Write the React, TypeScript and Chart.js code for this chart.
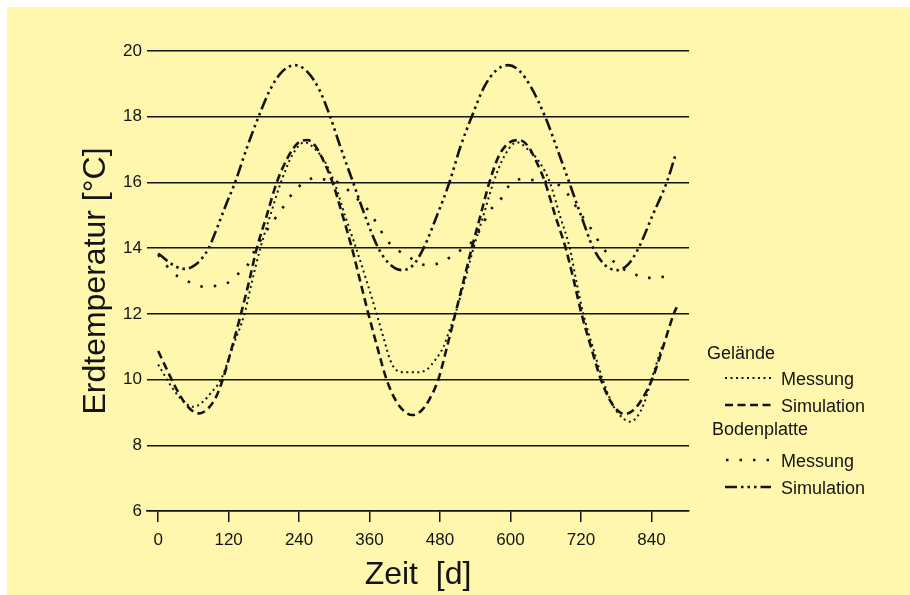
import React, { useEffect, useRef } from "react";
import { Chart, registerables } from "chart.js";

Chart.register(...registerables);

// ---------- data ----------
const xTickValues = [0, 120, 240, 360, 480, 600, 720, 840];
const yTickValues = [6, 8, 10, 12, 14, 16, 18, 20];

const legendGroups = ["Gelände", "Bodenplatte"];
const legendItems = ["Messung", "Simulation"];

// Gelände – Messung (dense dotted)
const gelaendeMessungDays = [0, 15, 30, 45, 59, 75, 90, 107, 127, 147, 160, 174, 191, 209, 229, 249, 268, 285, 300, 318, 337, 355, 372, 385, 395, 405, 420, 440, 457, 472, 486, 496, 506, 522, 537, 554, 571, 591, 611, 630, 650, 667, 684, 701, 712, 724, 740, 757, 775, 790, 803, 815, 828, 840, 858];
const gelaendeMessungTemp = [10.46, 10.0, 9.6, 9.3, 9.17, 9.3, 9.6, 10.0, 11.0, 12.0, 13.0, 14.0, 15.0, 16.0, 16.85, 17.22, 17.0, 16.6, 16.0, 15.0, 14.0, 13.0, 12.0, 11.2, 10.6, 10.3, 10.22, 10.22, 10.3, 10.6, 11.0, 11.5, 12.0, 13.0, 14.0, 15.0, 16.0, 16.85, 17.22, 17.0, 16.6, 16.0, 15.0, 14.0, 13.0, 12.0, 11.0, 10.0, 9.2, 8.85, 8.72, 8.85, 9.3, 10.0, 11.0];

// Gelände – Simulation (dashed)
const gelaendeSimDays = [0, 15, 30, 45, 58, 70, 85, 98, 110, 126, 141, 155, 168, 185, 202, 222, 238, 254, 268, 283, 297, 314, 330, 344, 358, 373, 389, 405, 420, 433, 448, 462, 477, 492, 506, 520, 534, 549, 564, 580, 597, 615, 630, 645, 659, 676, 694, 708, 721, 737, 754, 770, 783, 795, 808, 822, 841, 860, 878, 883];
const gelaendeSimTemp = [10.87, 10.3, 9.75, 9.3, 9.05, 8.97, 9.12, 9.45, 10.0, 11.0, 12.0, 13.0, 14.0, 15.0, 16.0, 16.8, 17.2, 17.29, 17.1, 16.6, 16.0, 15.0, 14.0, 13.0, 12.0, 11.0, 10.0, 9.35, 9.02, 8.92, 9.05, 9.4, 10.0, 11.0, 12.0, 13.0, 14.0, 15.0, 16.0, 16.8, 17.2, 17.29, 17.1, 16.6, 16.0, 15.0, 14.0, 13.0, 12.0, 11.0, 10.0, 9.35, 9.05, 8.95, 9.05, 9.35, 10.0, 11.0, 12.0, 12.2];

// Bodenplatte – Messung (sparse dots)
const bodenMessungDays = [0, 9, 25, 46, 62, 77, 97, 117, 135, 151, 165, 180, 195, 211, 228, 245, 269, 287, 304, 318, 332, 355, 372, 389, 412, 426, 440, 454, 474, 490, 503, 520, 534, 551, 562, 575, 587, 596, 606, 622, 639, 658, 676, 690, 705, 718, 735, 752, 769, 784, 800, 815, 829, 849, 870];
const bodenMessungTemp = [13.8, 13.59, 13.25, 13.03, 12.9, 12.83, 12.85, 12.93, 13.2, 13.45, 13.95, 14.4, 14.8, 15.2, 15.65, 15.95, 16.15, 16.07, 16.02, 15.85, 15.62, 15.21, 14.76, 14.25, 13.89, 13.74, 13.6, 13.49, 13.52, 13.65, 13.79, 14.0, 14.18, 14.65, 15.06, 15.35, 15.57, 15.87, 16.02, 16.12, 16.07, 16.03, 15.97, 15.82, 15.45, 15.08, 14.65, 14.15, 13.74, 13.44, 13.3, 13.18, 13.08, 13.13, 13.11];

// Bodenplatte – Simulation (dash-dot-dot)
const bodenSimDays = [0, 15, 30, 46, 60, 75, 86, 100, 115, 131, 150, 171, 190, 210, 233, 255, 275, 293, 310, 332, 352, 375, 395, 415, 435, 452, 475, 496, 515, 534, 555, 575, 596, 615, 635, 659, 680, 700, 720, 741, 760, 781, 800, 818, 842, 866, 881];
const bodenSimTemp = [13.84, 13.62, 13.44, 13.37, 13.45, 13.7, 14.0, 14.6, 15.3, 16.0, 17.0, 18.0, 18.8, 19.35, 19.57, 19.35, 18.8, 18.0, 17.1, 16.0, 15.0, 14.0, 13.5, 13.33, 13.5, 14.0, 15.0, 16.0, 17.1, 18.0, 18.9, 19.4, 19.57, 19.4, 18.9, 18.0, 17.0, 16.0, 15.0, 14.0, 13.5, 13.33, 13.5, 14.0, 15.0, 16.0, 16.84];

// ---------- style ----------
const INK = "#141414";
const BG = "#FFF7AE";
const FONT = '"Liberation Sans", Arial, Helvetica, sans-serif';

const dashGM = [2, 3.5];
const dashGS = [8, 4.5];
const dashBM = [2.5, 11];
const dashBS = [12, 4, 2.5, 4, 2.5, 4, 2.5, 4];

const toPoints = (days: number[], temps: number[]) =>
  days.map((d, i) => ({ x: d, y: temps[i] }));

const legendPlugin = {
  id: "groupLegend",
  afterDraw(chart: any) {
    const ctx = chart.ctx as CanvasRenderingContext2D;
    const ds = chart.data.datasets;
    const sample = (d: any, x0: number, x1: number, y: number) => {
      ctx.beginPath();
      ctx.setLineDash(d.borderDash);
      ctx.lineWidth = d.borderWidth;
      ctx.strokeStyle = INK;
      ctx.moveTo(x0, y);
      ctx.lineTo(x1, y);
      ctx.stroke();
    };
    ctx.save();
    ctx.fillStyle = INK;
    ctx.font = `18px ${FONT}`;
    ctx.textAlign = "left";
    ctx.textBaseline = "alphabetic";
    ctx.fillText(legendGroups[0], 707, 359);
    sample(ds[2], 725, 771, 378);
    ctx.fillText(legendItems[0], 781, 385);
    sample(ds[1], 725, 771, 405);
    ctx.fillText(legendItems[1], 781, 412);
    ctx.fillText(legendGroups[1], 712, 435);
    sample(ds[3], 726, 770, 460);
    ctx.fillText(legendItems[0], 781, 467);
    sample(ds[0], 725, 771, 487);
    ctx.fillText(legendItems[1], 781, 494);
    ctx.restore();
  },
};

export default function App() {
  const ref = useRef<HTMLCanvasElement>(null);

  useEffect(() => {
    if (!ref.current) return;
    const common = {
      borderColor: INK,
      backgroundColor: INK,
      pointRadius: 0,
      fill: false,
      cubicInterpolationMode: "monotone" as const,
    };
    const chart = new Chart(ref.current, {
      type: "line",
      data: {
        datasets: [
          { ...common, label: "Bodenplatte Simulation", data: toPoints(bodenSimDays, bodenSimTemp), borderDash: dashBS, borderWidth: 2.6 },
          { ...common, label: "Gelände Simulation", data: toPoints(gelaendeSimDays, gelaendeSimTemp), borderDash: dashGS, borderWidth: 2.6 },
          { ...common, label: "Gelände Messung", data: toPoints(gelaendeMessungDays, gelaendeMessungTemp), borderDash: dashGM, borderWidth: 2 },
          { ...common, label: "Bodenplatte Messung", data: toPoints(bodenMessungDays, bodenMessungTemp), borderDash: dashBM, borderWidth: 2.6 },
        ],
      },
      options: {
        animation: false,
        responsive: false,
        maintainAspectRatio: false,
        devicePixelRatio: 1,
        layout: { padding: { left: 0, top: 51, right: 221, bottom: 0 } },
        plugins: {
          legend: { display: false },
          tooltip: { enabled: false },
          title: { display: false },
        },
        scales: {
          x: {
            type: "linear",
            min: -19,
            max: 904,
            afterBuildTicks: (s: any) => {
              s.ticks = xTickValues.map((v) => ({ value: v }));
            },
            afterFit: (s: any) => {
              s.height = 84;
            },
            grid: {
              display: true,
              drawOnChartArea: false,
              drawTicks: true,
              tickLength: 11,
              color: INK,
              lineWidth: 1.5,
            },
            border: { display: true, color: INK, width: 1.5 },
            ticks: {
              color: INK,
              font: { family: FONT, size: 17 },
              padding: 8,
              maxRotation: 0,
              autoSkip: false,
            },
            title: {
              display: true,
              text: "Zeit  [d]",
              color: INK,
              font: { family: FONT, size: 32 },
              padding: { top: 0, bottom: 1 },
            },
          },
          y: {
            type: "linear",
            min: 6,
            max: 20,
            afterBuildTicks: (s: any) => {
              s.ticks = yTickValues.map((v) => ({ value: v }));
            },
            afterFit: (s: any) => {
              s.width = 147;
            },
            grid: {
              display: true,
              drawTicks: false,
              color: INK,
              lineWidth: 1.4,
            },
            border: { display: false },
            ticks: {
              color: INK,
              font: { family: FONT, size: 17 },
              padding: 5,
              autoSkip: false,
            },
            title: {
              display: true,
              text: "Erdtemperatur [°C]",
              color: INK,
              font: { family: FONT, size: 32 },
              padding: { top: 77, bottom: 0 },
            },
          },
        },
      },
      plugins: [legendPlugin],
    });
    return () => chart.destroy();
  }, []);

  return (
    <div style={{ position: "absolute", left: 0, top: 0, width: 910, height: 595, overflow: "hidden" }}>
      <div style={{ position: "absolute", left: 7, top: 7, right: 0, bottom: 0, background: BG }} />
      <canvas
        ref={ref}
        width={910}
        height={595}
        style={{ position: "absolute", left: 0, top: 0, width: 910, height: 595, display: "block" }}
      />
    </div>
  );
}
